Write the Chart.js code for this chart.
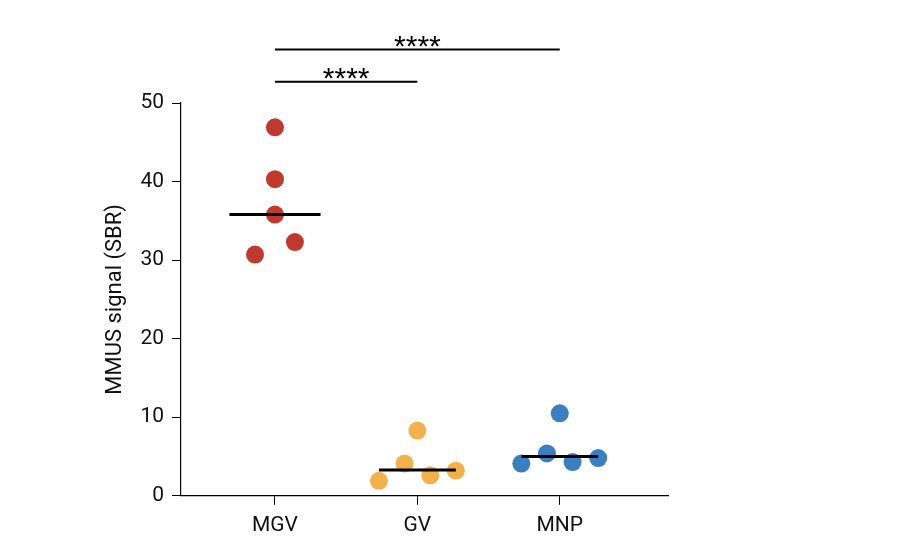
<!DOCTYPE html>
<html><head><meta charset="utf-8">
<script src="https://cdn.jsdelivr.net/npm/chart.js@4"></script>
<style>html,body{margin:0;background:#fff}#wrap{width:923px;height:552px}</style>
</head><body><div id="wrap"><canvas id="c"></canvas></div>
<script>
// categories and values
const categories = ['MGV', 'GV', 'MNP'];
const colors = ['#c0392f', '#f3b14e', '#3a7fc2'];
const mgvX = [1, 1, 1, 1.14, 0.86];
const mgvY = [46.9, 40.3, 35.8, 32.3, 30.7];
const gvX = [2, 1.91, 1.73, 2.09, 2.27];
const gvY = [8.3, 4.1, 1.9, 2.6, 3.2];
const mnpX = [3, 2.91, 2.73, 3.09, 3.27];
const mnpY = [10.5, 5.4, 4.1, 4.3, 4.8];
const means = [35.8, 3.3, 5.0];
const meanHalfWidth = [0.32, 0.27, 0.27];
// significance brackets: [from, to, height]
const brackets = [[1, 2, 52.7], [1, 3, 56.8]];
const yTicks = [0, 10, 20, 30, 40, 50];

const groups = [[mgvX, mgvY], [gvX, gvY], [mnpX, mnpY]];
const datasets = [];
groups.forEach(([xs, ys], i) => {
    datasets.push({
        type: 'scatter',
        data: xs.map((x, j) => ({ x, y: ys[j] })),
        backgroundColor: colors[i], borderWidth: 0, pointRadius: 9, order: 2
    });
    datasets.push({
        type: 'line',
        data: [{ x: i + 1 - meanHalfWidth[i], y: means[i] }, { x: i + 1 + meanHalfWidth[i], y: means[i] }],
        borderColor: '#000', borderWidth: 3, pointRadius: 0, order: 1
    });
});
brackets.forEach(([a, b, h]) => {
    datasets.push({
        type: 'line', data: [{ x: a, y: h }, { x: b, y: h }],
        borderColor: '#000', borderWidth: 2, pointRadius: 0, clip: false, order: 1
    });
});

const starsPlugin = {
    id: 'stars',
    afterDatasetsDraw(chart) {
        const { ctx, scales: { x, y } } = chart;
        ctx.save();
        ctx.fillStyle = '#000';
        ctx.font = '30px "Liberation Sans", Arial';
        ctx.textAlign = 'center';
        ctx.textBaseline = 'alphabetic';
        brackets.forEach(([a, b, h]) => {
            ctx.fillText('****', x.getPixelForValue((a + b) / 2), y.getPixelForValue(h) + 6);
        });
        ctx.restore();
    }
};

new Chart(document.getElementById('c'), {
    data: { datasets },
    plugins: [starsPlugin],
    options: {
        responsive: true, maintainAspectRatio: false, animation: false,
        layout: { padding: { top: 103, right: 255, bottom: 6, left: 98 } },
        plugins: { legend: { display: false }, tooltip: { enabled: false } },
        scales: {
            x: {
                type: 'linear', min: 0.34, max: 3.76,
                afterBuildTicks: (s) => { s.ticks = [1, 2, 3].map(v => ({ value: v })); },
                ticks: { callback: (v) => categories[v - 1], color: '#111', font: { size: 21, family: 'Roboto' }, padding: 8 },
                grid: { display: true, drawOnChartArea: false, color: '#000', tickLength: 9, tickColor: '#000' },
                border: { color: '#000', width: 1.2 }
            },
            y: {
                min: 0, max: 50,
                afterBuildTicks: (s) => { s.ticks = yTicks.map(v => ({ value: v })); },
                ticks: { color: '#111', font: { size: 21, family: 'Roboto' }, padding: 8 },
                grid: { display: true, drawOnChartArea: false, color: '#000', tickLength: 9, tickColor: '#000' },
                border: { color: '#000', width: 1.2 },
                title: { display: true, text: 'MMUS signal (SBR)', color: '#111', font: { size: 22, family: 'Roboto' } }
            }
        }
    }
});
</script></body></html>
